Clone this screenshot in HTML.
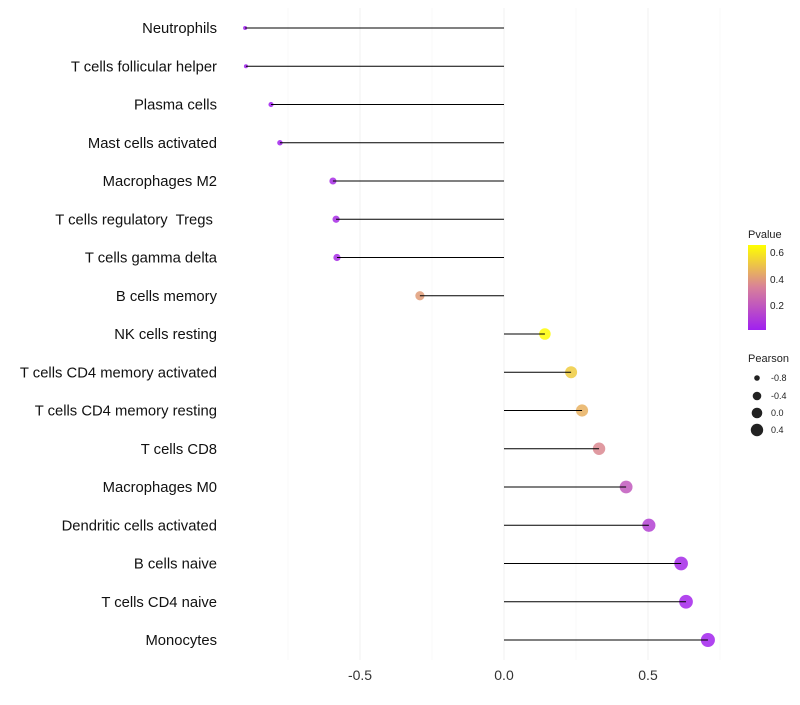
<!DOCTYPE html>
<html><head><meta charset="utf-8"><style>
body{margin:0;background:#fff;font-family:"Liberation Sans",sans-serif}
text{white-space:pre}
</style></head><body>
<svg id="chart" width="800" height="700">
<defs><linearGradient id="pg" x1="0" y1="1" x2="0" y2="0">
<stop offset="0" stop-color="#A020F0"/><stop offset="0.5" stop-color="#D8809A"/><stop offset="1" stop-color="#FFFF00"/></linearGradient></defs>
<g id="grid"></g><g id="points"></g><g id="marks"></g><g id="labels"></g>
<g font-size="10" fill="#222">
<text x="748" y="238" font-size="11">Pvalue</text>
<rect x="748" y="245" width="18" height="85" fill="url(#pg)"/>
<text x="770" y="256">0.6</text><text x="770" y="283">0.4</text><text x="770" y="309">0.2</text>
</g>
<g font-size="9" fill="#222">
<text x="748" y="362" font-size="11">Pearson</text>
<circle cx="757" cy="378" r="2.8"/><text x="771" y="381">-0.8</text>
<circle cx="757" cy="396" r="4.3"/><text x="771" y="399">-0.4</text>
<circle cx="757" cy="413" r="5.3"/><text x="771" y="416">0.0</text>
<circle cx="757" cy="430" r="6.2"/><text x="771" y="433">0.4</text>
</g>
</svg>
<script>
const categories=["Neutrophils","T cells follicular helper","Plasma cells","Mast cells activated","Macrophages M2","T cells regulatory  Tregs ","T cells gamma delta","B cells memory","NK cells resting","T cells CD4 memory activated","T cells CD4 memory resting","T cells CD8","Macrophages M0","Dendritic cells activated","B cells naive","T cells CD4 naive","Monocytes"];
const pearson=[-0.899,-0.896,-0.809,-0.778,-0.594,-0.583,-0.580,-0.292,0.142,0.233,0.271,0.330,0.424,0.503,0.615,0.632,0.708];
const pvalue=[0.01,0.01,0.01,0.02,0.05,0.05,0.05,0.40,0.64,0.52,0.45,0.35,0.20,0.12,0.04,0.03,0.02];
const xTicks=[-0.5,0,0.5];
const minorTicks=[-0.75,-0.25,0.25,0.75];
const NS="http://www.w3.org/2000/svg";
const x=v=>504+v*288;
const y=i=>28+i*38.25;
const rad=v=>Math.sqrt(Math.max(1,29.3+28.1*v));
function col(p){const t=Math.max(0,Math.min(1,(p-0.01)/0.64));
 const a=[160,32,240],m=[216,128,154],b=[255,255,0];let c;
 if(t<0.5){const u=t*2;c=a.map((q,k)=>q+(m[k]-q)*u);}else{const u=(t-0.5)*2;c=m.map((q,k)=>q+(b[k]-q)*u);}
 return `rgb(${c.map(Math.round).join(',')})`;}
function mk(tag,at,par){const e=document.createElementNS(NS,tag);for(const k in at)e.setAttribute(k,at[k]);document.getElementById(par).appendChild(e);return e;}
minorTicks.forEach(t=>{const l=mk('line',{x1:x(t),x2:x(t),y1:8,y2:660,stroke:'#f8f8f8','stroke-width':1},'grid');

});
xTicks.forEach(t=>{const l=mk('line',{x1:x(t),x2:x(t),y1:8,y2:660,stroke:'#f2f2f2','stroke-width':1},'grid');


const tx=mk('text',{x:x(t),y:680,'text-anchor':'middle','font-size':14,fill:'#333'},'labels');tx.textContent=t.toFixed(1);

});
categories.forEach((c,i)=>{const yy=y(i);
const tx=mk('text',{x:217,y:yy+5,'text-anchor':'end','font-size':14.8,fill:'#111'},'labels');tx.textContent=c;


const p=mk('circle',{cx:x(pearson[i]),cy:yy,r:rad(pearson[i]),fill:col(pvalue[i]),'fill-opacity':0.85},'points');


const l=mk('line',{x1:x(0),x2:x(pearson[i]),y1:yy,y2:yy,stroke:'#000','stroke-width':1},'marks');

});
</script>
</body></html>
